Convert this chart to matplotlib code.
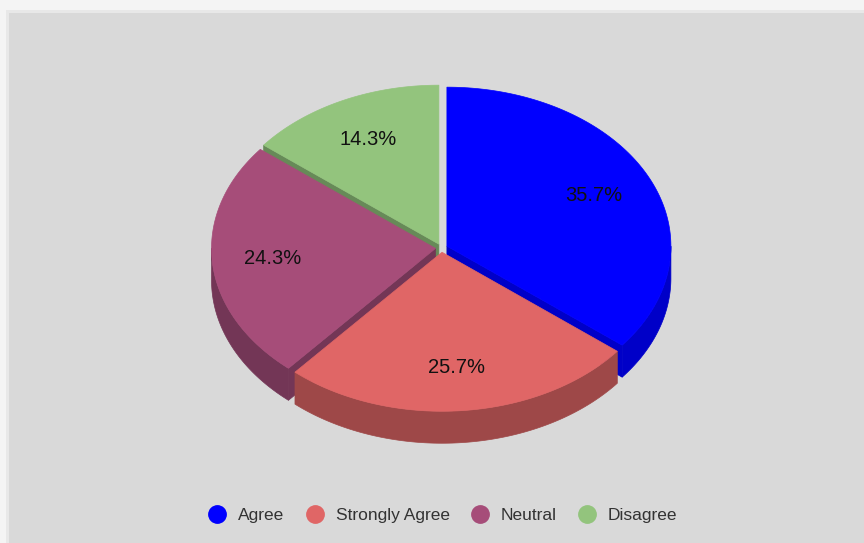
import numpy as np
import matplotlib
matplotlib.use("Agg")
import matplotlib.pyplot as plt
from matplotlib.patches import Polygon, Rectangle
from matplotlib.lines import Line2D

# Survey answers (share of respondents, %)
labels = ["Agree", "Strongly Agree", "Neutral", "Disagree"]
shares = [35.7, 25.7, 24.3, 14.3]
top_colors = ["#0000ff", "#e06666", "#a64d79", "#93c47d"]
side_colors = ["#0000c8", "#9e4848", "#733656", "#678a58"]

# pie geometry in pixels (y grows downward)
cx, cy = 441.5, 248
rx, ry = 224, 159
depth = 32
explode = 6
label_r = 0.73

W, H = 864, 543
fig = plt.figure(figsize=(W / 100, H / 100), dpi=100)
fig.patch.set_facecolor("#f4f4f4")
ax = fig.add_axes([0, 0, 1, 1])
ax.set_xlim(0, W)
ax.set_ylim(H, 0)
ax.axis("off")

# card background
ax.add_patch(Rectangle((6, 10), W, H, facecolor="#e8e8e8", edgecolor="none", zorder=0))
ax.add_patch(Rectangle((9, 13), W, H, facecolor="#d9d9d9", edgecolor="none", zorder=0))


def rim(x0, y0, ang):
    a = np.radians(ang)
    return x0 + rx * np.sin(a), y0 - ry * np.cos(a)


def arc(x0, y0, a0, a1, n=120):
    t = np.linspace(a0, a1, n)
    xs, ys = rim(x0, y0, t)
    return np.column_stack([xs, ys])


total = sum(shares)
bounds = np.concatenate([[0], np.cumsum(shares) / total * 360])

slices = []
for i, v in enumerate(shares):
    a0, a1 = bounds[i], bounds[i + 1]
    mid = np.radians((a0 + a1) / 2)
    x0 = cx + explode * np.sin(mid)
    y0 = cy - explode * (ry / rx) * np.cos(mid)
    slices.append((a0, a1, x0, y0))

# radial cut faces that face the viewer, back slices first
for i in sorted(range(len(slices)), key=lambda k: slices[k][3]):
    a0, a1, x0, y0 = slices[i]
    for ang, visible in ((a0, 180 < a0 < 360), (a1, 0 < a1 < 180)):
        if not visible:
            continue
        px, py = rim(x0, y0, ang)
        pts = [(x0, y0), (px, py), (px, py + depth), (x0, y0 + depth)]
        ax.add_patch(Polygon(pts, closed=True, facecolor=side_colors[i],
                             edgecolor=side_colors[i], lw=0.5, zorder=2))

# outer walls, front half only
for i, (a0, a1, x0, y0) in enumerate(slices):
    lo, hi = max(a0, 90), min(a1, 270)
    if lo >= hi:
        continue
    top = arc(x0, y0, lo, hi)
    bottom = top[::-1] + [0, depth]
    ax.add_patch(Polygon(np.vstack([top, bottom]), closed=True,
                         facecolor=side_colors[i], edgecolor=side_colors[i],
                         lw=0.5, zorder=3))

# top faces
for i, (a0, a1, x0, y0) in enumerate(slices):
    pts = np.vstack([[x0, y0], arc(x0, y0, a0, a1)])
    ax.add_patch(Polygon(pts, closed=True, facecolor=top_colors[i],
                         edgecolor=top_colors[i], lw=0.5, zorder=4))
    mid = np.radians((a0 + a1) / 2)
    lx = x0 + label_r * rx * np.sin(mid)
    ly = y0 - label_r * ry * np.cos(mid)
    ax.text(lx, ly, f"{shares[i]:.1f}%", ha="center", va="center",
            fontsize=14.5, family="Liberation Sans", color="#111111", zorder=5)

handles = [Line2D([], [], marker="o", linestyle="none", markersize=12.5,
                  markerfacecolor=c, markeredgecolor=c) for c in top_colors]
leg = ax.legend(handles, labels, ncol=4, loc="center", bbox_to_anchor=(443 / W, 1 - 515 / H),
                frameon=False, handlelength=1.0, handletextpad=0.7, columnspacing=1.25,
                prop={"family": "Liberation Sans", "size": 12.5})
for t in leg.get_texts():
    t.set_color("#333333")

fig.savefig("out.png", dpi=100, facecolor=fig.get_facecolor())
